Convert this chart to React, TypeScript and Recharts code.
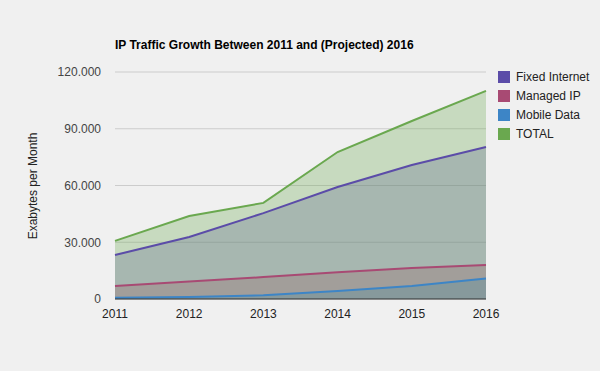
import { ComposedChart, Area, Line, XAxis, YAxis, CartesianGrid } from "recharts";

const years = ["2011", "2012", "2013", "2014", "2015", "2016"];
const fixedInternet = [23300, 32800, 45400, 59200, 70800, 80400];
const managedIP = [6900, 9200, 11600, 14200, 16400, 18000];
const mobileData = [600, 1000, 2000, 4200, 6900, 10800];
const total = [30700, 43900, 50800, 77700, 94100, 110000];
const yTicks = [0, 30000, 60000, 90000, 120000];

const series = [
  { key: "fixed", name: "Fixed Internet", color: "#5b4ca8" },
  { key: "managed", name: "Managed IP", color: "#a84a73" },
  { key: "mobile", name: "Mobile Data", color: "#3d85c6" },
  { key: "total", name: "TOTAL", color: "#6aa84f" }
];

const data = years.map((y, i) => ({
  year: y,
  fixed: fixedInternet[i],
  managed: managedIP[i],
  mobile: mobileData[i],
  total: total[i]
}));

const fmt = (v: number) => v.toLocaleString("de-DE", { minimumFractionDigits: 0 });

export default function App() {
  return (
    <div
      style={{
        position: "absolute",
        left: 0,
        top: 0,
        width: 600,
        height: 371,
        background: "#f0f0f0",
        fontFamily: "'Liberation Sans', Arial, sans-serif"
      }}
    >
      <div
        style={{
          position: "absolute",
          left: 115,
          top: 38,
          fontSize: 12,
          fontWeight: "bold",
          color: "#000"
        }}
      >
        IP Traffic Growth Between 2011 and (Projected) 2016
      </div>
      <div
        style={{
          position: "absolute",
          left: 33,
          top: 186,
          transform: "translate(-50%, -50%) rotate(-90deg)",
          fontSize: 12,
          color: "#222",
          whiteSpace: "nowrap"
        }}
      >
        Exabytes per Month
      </div>
      <ComposedChart
        width={600}
        height={371}
        data={data}
        margin={{ top: 72, right: 114, bottom: 42, left: 20 }}
      >
        <CartesianGrid vertical={false} stroke="#cccccc" />
        <XAxis
          dataKey="year"
          axisLine={{ stroke: "#333" }}
          tickLine={false}
          height={30}
          tick={{ fill: "#222", fontSize: 12 }}
          tickMargin={4}
          interval={0}
        />
        <YAxis
          width={95}
          domain={[0, 120000]}
          ticks={yTicks}
          tickFormatter={fmt}
          axisLine={false}
          tickLine={false}
          tick={{ fill: "#444", fontSize: 12 }}
          tickMargin={8}
        />
        {series.map((s) => (
          <Area
            key={"a" + s.key}
            type="linear"
            dataKey={s.key}
            stroke="none"
            fill={s.color}
            fillOpacity={0.3}
            isAnimationActive={false}
            dot={false}
            activeDot={false}
            legendType="none"
          />
        ))}
        {series.map((s) => (
          <Line
            key={"l" + s.key}
            type="linear"
            dataKey={s.key}
            name={s.name}
            stroke={s.color}
            strokeWidth={2}
            isAnimationActive={false}
            dot={false}
            activeDot={false}
          />
        ))}
      </ComposedChart>
      <div style={{ position: "absolute", left: 498, top: 67 }}>
        {series.map((s) => (
          <div
            key={s.key}
            style={{ display: "flex", alignItems: "center", height: 19, fontSize: 12, color: "#222" }}
          >
            <span
              style={{ display: "inline-block", width: 12, height: 12, background: s.color, marginRight: 6 }}
            />
            {s.name}
          </div>
        ))}
      </div>
    </div>
  );
}
